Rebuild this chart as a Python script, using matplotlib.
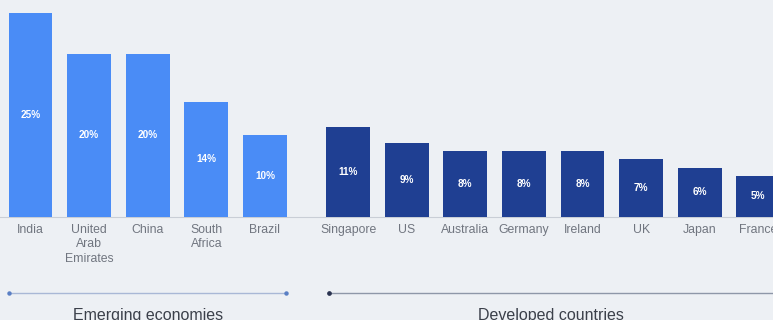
import matplotlib
matplotlib.use("Agg")
import matplotlib.pyplot as plt

# share of respondents, by country group
emerging = ["India", "United\nArab\nEmirates", "China", "South\nAfrica", "Brazil"]
emerging_pct = [25, 20, 20, 14, 10]
developed = ["Singapore", "US", "Australia", "Germany", "Ireland", "UK", "Japan", "France"]
developed_pct = [11, 9, 8, 8, 8, 7, 6, 5]
group_titles = ["Emerging economies", "Developed countries"]

BG = "#edf0f4"
LIGHT, DARK = "#4a8cf6", "#1f3f92"
LABEL_C, TITLE_C = "#70757f", "#3b404a"

plt.rcParams["font.family"] = ["Liberation Sans", "DejaVu Sans"]

W, H = 773, 320
BASE_PX, PX_PER_PCT = 216.5, 8.15           # baseline row and vertical scale in pixels
X0_PX, PITCH_PX = 30.5, 58.6                # first bar centre and bar pitch in pixels
GAP = 1.42                                  # slot offset between the two groups


def ypx(p):
    """pixel row -> data y"""
    return (BASE_PX - p) / PX_PER_PCT


fig = plt.figure(figsize=(W / 100, H / 100), dpi=100, facecolor=BG)
ax = fig.add_axes([0, 0, 1, 1], facecolor=BG)
ax.set_xlim(-X0_PX / PITCH_PX, (W - X0_PX) / PITCH_PX)
ax.set_ylim(ypx(H), ypx(0))
ax.axis("off")

xe = list(range(len(emerging)))
xd = [len(emerging) - 1 + GAP + j for j in range(len(developed))]

ax.axhline(0, color="#c9ced6", lw=0.8, zorder=1)
for xs, vals, names, col in ((xe, emerging_pct, emerging, LIGHT),
                             (xd, developed_pct, developed, DARK)):
    ax.bar(xs, vals, width=0.75, color=col, zorder=2)
    for x, v, n in zip(xs, vals, names):
        ax.text(x, v / 2, f"{v}%", color="white", fontsize=7.2, fontweight="bold",
                ha="center", va="center", zorder=3)
        ax.text(x, ypx(223.5), n, color=LABEL_C, fontsize=8.8, ha="center", va="top",
                linespacing=1.3)

# group brackets with end dots
line_y = ypx(293)
ax.plot([xe[0] - 0.36, xe[-1] + 0.36], [line_y, line_y], color="#a9b8d6", lw=1.0,
        zorder=1)
ax.plot([xe[0] - 0.36, xe[-1] + 0.36], [line_y, line_y], "o", color="#5a7fc4", ms=2.2)
d_left = xd[0] - 0.33
ax.plot([d_left, xd[-1] + 1], [line_y, line_y], color="#8e97a8", lw=1.0, zorder=1)
ax.plot([d_left], [line_y], "o", color="#2a3350", ms=2.4)

ax.text((xe[0] + xe[-1]) / 2, ypx(308), group_titles[0], color=TITLE_C, fontsize=11.5,
        ha="center", va="top")
ax.text((d_left + (W - X0_PX) / PITCH_PX) / 2, ypx(308), group_titles[1], color=TITLE_C,
        fontsize=11.5, ha="center", va="top")

fig.savefig("out.png", dpi=100, facecolor=BG)
